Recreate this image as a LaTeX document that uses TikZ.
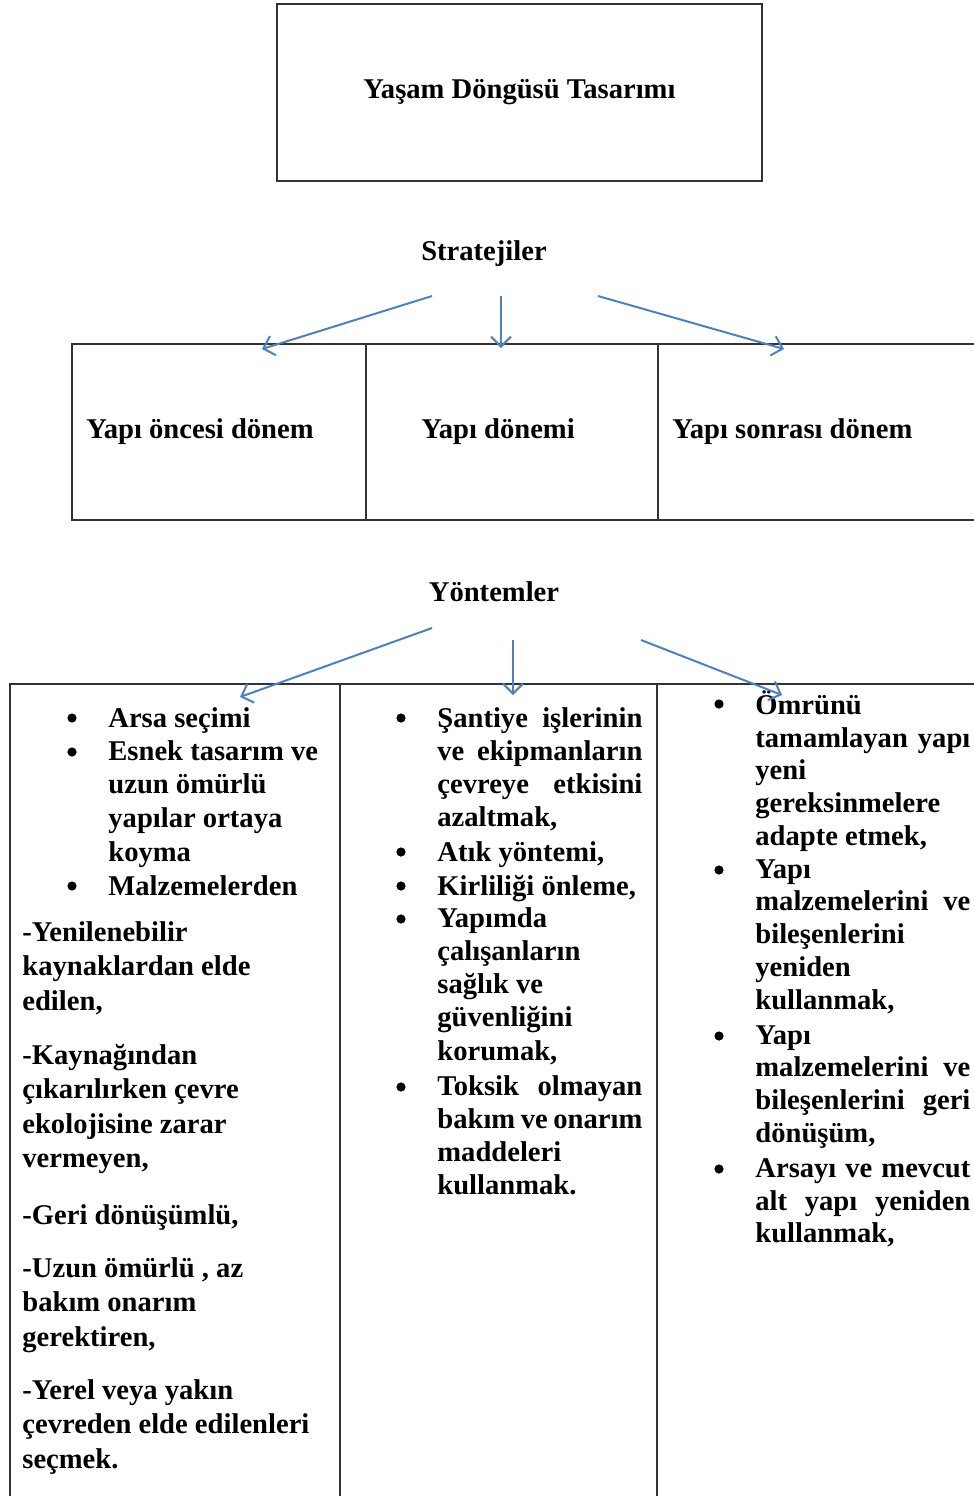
\documentclass[tikz,border=0pt]{standalone}
\usepackage{fontspec}
\setmainfont{Liberation Serif}
\usetikzlibrary{arrows.meta}
\definecolor{arrowblue}{HTML}{4F81BD}
\newcommand{\jb}[1]{\makebox[102.5pt][s]{#1}}
\newcommand{\jc}[1]{\makebox[107.5pt][s]{#1}}

\begin{document}
\begin{tikzpicture}[x=0.5pt, y=-0.5pt,
  box/.style={draw=black!80, line width=1pt, inner sep=0pt, font=\bfseries\fontsize{14.3}{16.8}\selectfont},
  head/.style={inner sep=0pt, font=\bfseries\fontsize{14.3}{16.8}\selectfont},
  txt/.style={anchor=north west, yshift=13pt, align=left, inner sep=0pt,
    execute at begin node=\rule{0pt}{13pt}, font=\bfseries\fontsize{14.3}{16.8}\selectfont},
  para/.style={txt, font=\bfseries\fontsize{14.3}{17.2}\selectfont},
  mid/.style={txt, font=\bfseries\fontsize{14.3}{16.6}\selectfont},
  rgt/.style={txt, font=\bfseries\fontsize{14.3}{16.4}\selectfont},
  dot/.style={circle, fill=black, inner sep=0pt, minimum size=4.6pt},
  frame/.style={draw=black!80, line width=1pt},
  arr/.style={draw=arrowblue, line width=1pt, -{Straight Barb[length=5pt, width=10pt]}}]
\useasboundingbox (0,0) rectangle (974,1496);

\node[box, minimum width=242.5pt, minimum height=88.5pt] (title) at (519.5,92.5) {Yaşam Döngüsü Tasarımı};
\node[head] (strat) at (484,254) {Stratejiler};

\draw[frame] (990,344) -- (72,344) -- (72,520) -- (990,520);
\draw[frame] (366,344) -- (366,520) (658,344) -- (658,520);
\node[txt] (pre) at (86,438) {Yapı öncesi dönem};
\node[txt] (dur) at (421,438) {Yapı dönemi};
\node[txt] (post) at (672,438) {Yapı sonrası dönem};

\coordinate (s1) at (432,296);
\coordinate (s2) at (501,296);
\coordinate (s3) at (598,296);
\coordinate (e1) at (262,349);
\coordinate (e2) at (501,348);
\coordinate (e3) at (784,349);
\draw[arr] (s1) -- (e1);
\draw[arr] (s2) -- (e2);
\draw[arr] (s3) -- (e3);

\node[head] (yont) at (494,592) {Yöntemler};

\draw[frame] (990,684) -- (10,684) -- (10,1510);
\draw[frame] (340,684) -- (340,1510) (657,684) -- (657,1510);

% pre-construction
\foreach \y [count=\i] in {718,752,886}
  \node[dot] (da\i) at (72,\y) {};
\node[txt] (a1) at (108,727) {Arsa seçimi};
\node[txt] (a2) at (108,766) {Esnek tasarım ve\\uzun ömürlü\\yapılar ortaya\\koyma};
\node[txt] (a3) at (108,895) {Malzemelerden};
\node[para] (p1) at (22,947) {-Yenilenebilir\\kaynaklardan elde\\edilen,};
\node[para] (p2) at (22,1070) {-Kaynağından\\çıkarılırken çevre\\ekolojisine zarar\\vermeyen,};
\node[para] (p3) at (22,1224) {-Geri dönüşümlü,};
\node[para] (p4) at (22,1283) {-Uzun ömürlü , az\\bakım onarım\\gerektiren,};
\node[para] (p5) at (22,1405) {-Yerel veya yakın\\çevreden elde edilenleri\\seçmek.};

% construction
\foreach \y [count=\i] in {718,852,886,919,1087}
  \node[dot] (db\i) at (401,\y) {};
\node[mid] (b1) at (437,733) {\jb{Şantiye işlerinin}\\\jb{ve ekipmanların}\\\jb{çevreye etkisini}\\azaltmak,};
\node[mid] (b2) at (437,861) {Atık yöntemi,};
\node[mid] (b3) at (437,895) {Kirliliği önleme,};
\node[mid] (b4) at (437,933) {Yapımda\\çalışanların\\sağlık ve\\güvenliğini\\korumak,};
\node[mid] (b5) at (437,1101) {\jb{Toksik olmayan}\\\jb{bakım ve onarım}\\maddeleri\\kullanmak.};

% post-construction
\foreach \y [count=\i] in {704,870,1036,1169}
  \node[dot] (dc\i) at (719,\y) {};
\node[rgt] (c1) at (755,716) {Ömrünü\\\jc{tamamlayan yapı}\\yeni\\gereksinmelere\\adapte etmek,};
\node[rgt] (c2) at (755,885) {Yapı\\\jc{malzemelerini ve}\\bileşenlerini\\yeniden\\kullanmak,};
\node[rgt] (c3) at (755,1051) {Yapı\\\jc{malzemelerini ve}\\\jc{bileşenlerini geri}\\dönüşüm,};
\node[rgt] (c4) at (755,1184) {\jc{Arsayı ve mevcut}\\\jc{alt yapı yeniden}\\kullanmak,};

\coordinate (t1) at (432,628);
\coordinate (t2) at (513,640);
\coordinate (t3) at (641,640);
\coordinate (f1) at (240,697);
\coordinate (f2) at (513,695);
\coordinate (f3) at (782,695);
\draw[arr] (t1) -- (f1);
\draw[arr] (t2) -- (f2);
\draw[arr] (t3) -- (f3);
\end{tikzpicture}
\end{document}
